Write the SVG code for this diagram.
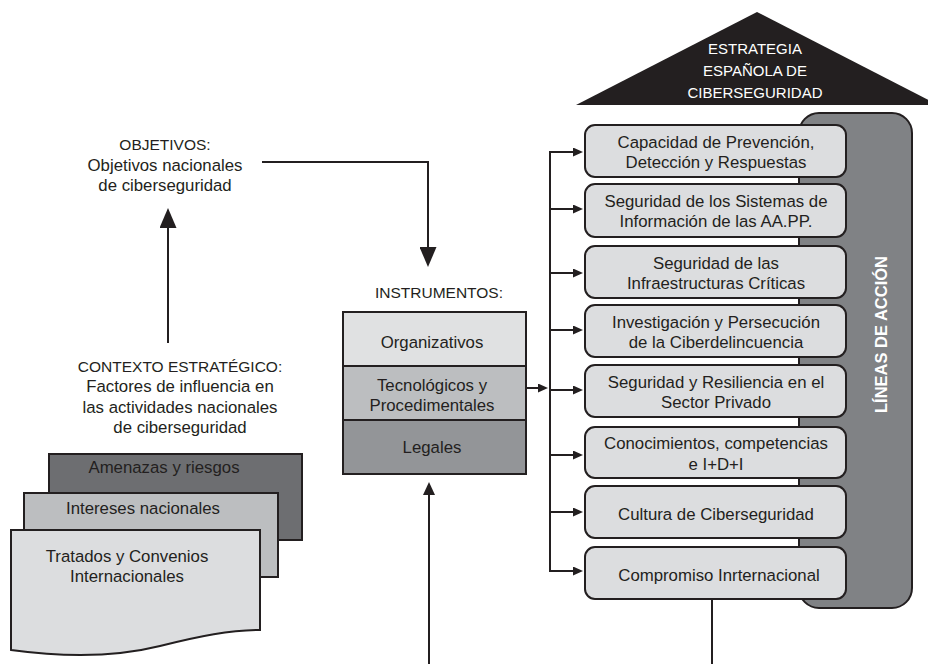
<svg xmlns="http://www.w3.org/2000/svg" width="928" height="664" viewBox="0 0 928 664">
<style>
text{font-family:"Liberation Sans","Arial","DejaVu Sans",sans-serif;font-size:16.8px;fill:#231f20;text-anchor:middle}
.up{font-size:15.5px}
.w{fill:#ffffff}
.tri{font-size:15px}
.vert{font-weight:bold;font-size:16.5px}
.box{fill:#dcdddf;stroke:#231f20;stroke-width:2}
.ln{fill:none;stroke:#231f20;stroke-width:2}
</style>
<defs>
<marker id="aS" markerUnits="userSpaceOnUse" markerWidth="10" markerHeight="9" refX="6" refY="4.5" orient="auto"><path d="M0,0 L10,4.5 L0,9 z" fill="#231f20"/></marker>
<marker id="aM" markerUnits="userSpaceOnUse" markerWidth="13" markerHeight="12" refX="9" refY="6" orient="auto"><path d="M0,0 L13,6 L0,12 z" fill="#231f20"/></marker>
<marker id="aB" markerUnits="userSpaceOnUse" markerWidth="20" markerHeight="17" refX="14" refY="8.5" orient="auto"><path d="M0,0 L20,8.5 L0,17 z" fill="#231f20"/></marker>
</defs>
<rect width="928" height="664" fill="#ffffff"/>

<g id="estrategia">
<polygon points="576,105 757,12 938,105" fill="#231f20"/>
<text class="w tri" x="755" y="54">ESTRATEGIA</text>
<text class="w tri" x="755" y="76">ESPAÑOLA DE</text>
<text class="w tri" x="755" y="98">CIBERSEGURIDAD</text>
</g>

<g id="lineas-de-accion">
<rect x="799" y="113" width="113" height="495" rx="20" fill="#808285" stroke="#231f20" stroke-width="2"/>
<text class="w vert" transform="translate(887,334.5) rotate(-90)">LÍNEAS DE ACCIÓN</text>
</g>

<g id="connectors">
<path class="ln" d="M168,343 V214" marker-end="url(#aB)"/>
<path class="ln" d="M262,162 H428 V261" marker-end="url(#aB)"/>
<path class="ln" d="M429,664 V486" marker-end="url(#aM)"/>
<path class="ln" d="M526,388 H544" marker-end="url(#aS)"/>
<path class="ln" d="M550,151 V572"/>
<path class="ln" d="M549,152 H579" marker-end="url(#aS)"/>
<path class="ln" d="M549,209 H579" marker-end="url(#aS)"/>
<path class="ln" d="M549,273 H579" marker-end="url(#aS)"/>
<path class="ln" d="M549,330 H579" marker-end="url(#aS)"/>
<path class="ln" d="M549,390 H579" marker-end="url(#aS)"/>
<path class="ln" d="M549,455 H579" marker-end="url(#aS)"/>
<path class="ln" d="M549,512 H579" marker-end="url(#aS)"/>
<path class="ln" d="M549,571 H579" marker-end="url(#aS)"/>
<path class="ln" d="M712,599 V664"/>
</g>

<g id="l1"><rect class="box" x="585" y="125" width="261" height="52" rx="10"/>
<text x="716" y="147.7">Capacidad de Prevención,</text><text x="716" y="168.2">Detección y Respuestas</text></g>
<g id="l2"><rect class="box" x="585" y="184" width="261" height="53" rx="10"/>
<text x="716" y="206.7">Seguridad de los Sistemas de</text><text x="716" y="227.2">Información de las AA.PP.</text></g>
<g id="l3"><rect class="box" x="585" y="246" width="261" height="52" rx="10"/>
<text x="716" y="268.7">Seguridad de las</text><text x="716" y="289.2">Infraestructuras Críticas</text></g>
<g id="l4"><rect class="box" x="585" y="305" width="261" height="52" rx="10"/>
<text x="716" y="327.7">Investigación y Persecución</text><text x="716" y="348.2">de la Ciberdelincuencia</text></g>
<g id="l5"><rect class="box" x="585" y="365" width="261" height="52" rx="10"/>
<text x="716" y="387.7">Seguridad y Resiliencia en el</text><text x="716" y="408.2">Sector Privado</text></g>
<g id="l6"><rect class="box" x="585" y="427" width="261" height="51" rx="10"/>
<text x="716" y="449.2">Conocimientos, competencias</text><text x="716" y="469.7">e I+D+I</text></g>
<g id="l7"><rect class="box" x="585" y="486" width="261" height="52" rx="10"/>
<text x="716" y="520">Cultura de Ciberseguridad</text></g>
<g id="l8"><rect class="box" x="585" y="547" width="261" height="52" rx="10"/>
<text x="719" y="581">Compromiso Inrternacional</text></g>

<g id="objetivos">
<text class="up" x="165" y="150">OBJETIVOS:</text>
<text x="165" y="170.5">Objetivos nacionales</text>
<text x="165" y="191">de ciberseguridad</text>
</g>

<g id="contexto">
<text class="up" x="180" y="371.5">CONTEXTO ESTRATÉGICO:</text>
<text x="180" y="392">Factores de influencia en</text>
<text x="180" y="412.5">las actividades nacionales</text>
<text x="180" y="433">de ciberseguridad</text>
</g>

<g id="instrumentos">
<text class="up" x="439" y="298">INSTRUMENTOS:</text>
<rect x="343" y="312" width="183" height="54" fill="#e0e1e2" stroke="#231f20" stroke-width="2"/>
<rect x="343" y="366" width="183" height="54" fill="#bcbec0" stroke="#231f20" stroke-width="2"/>
<rect x="343" y="420" width="183" height="54" fill="#939598" stroke="#231f20" stroke-width="2"/>
<text x="432" y="348">Organizativos</text>
<text x="432" y="390.5">Tecnológicos y</text>
<text x="432" y="411">Procedimentales</text>
<text x="432" y="453">Legales</text>
</g>

<g id="amenazas">
<rect x="49" y="454" width="253" height="86" fill="#6d6e71" stroke="#231f20" stroke-width="2"/>
<text x="164" y="473">Amenazas y riesgos</text>
</g>
<g id="intereses">
<rect x="24" y="493" width="254" height="84" fill="#bcbec0" stroke="#231f20" stroke-width="2"/>
<text x="143" y="514">Intereses nacionales</text>
</g>
<g id="tratados">
<path d="M11,530 H260 V630 C230,630 200,636 160,646 C120,656 70,658 11,650 Z" fill="#dcdddf" stroke="#231f20" stroke-width="2"/>
<text x="127" y="561.5">Tratados y Convenios</text>
<text x="127" y="582">Internacionales</text>
</g>
</svg>
